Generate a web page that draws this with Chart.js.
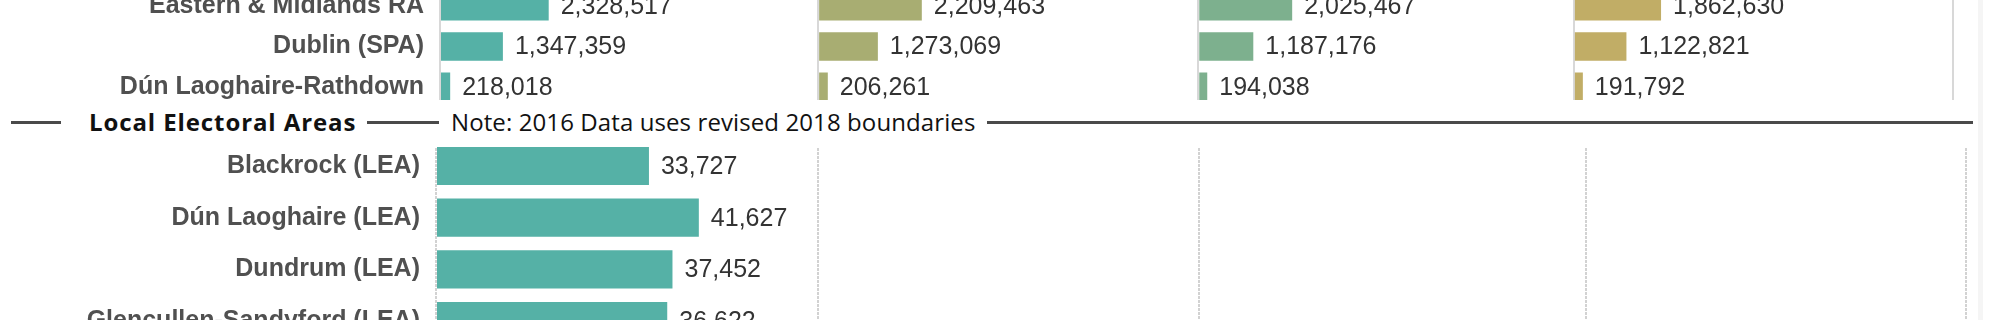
<!DOCTYPE html>
<html>
<head>
<meta charset="utf-8">
<script src="https://cdn.jsdelivr.net/npm/chart.js@4.4.1/dist/chart.umd.min.js"></script>
<style>
  html, body { margin: 0; padding: 0; background: #fff; width: 2000px; height: 320px; overflow: hidden; }
  .pane { position: absolute; left: 0; width: 2000px; overflow: hidden; }
  .pane canvas { position: absolute; left: 0; }
  #topPane { top: 0; height: 100px; }
  #topPane canvas { top: -14px; }
  #leaPane { top: 147px; height: 173px; }
  #leaPane canvas { top: -7px; }
  .rule { position: absolute; top: 121px; height: 3px; background: #4a4a4a; }
  .caption { position: absolute; top: 107px; height: 30px; line-height: 30px; font-family: "Open Sans", sans-serif; font-size: 24px; letter-spacing: 0.1px; color: #111; white-space: nowrap; }
  .edge { position: absolute; left: 1978px; top: 0; width: 5px; height: 320px; background: #f5f5f5; }
</style>
</head>
<body>
<div id="topPane" class="pane"><canvas id="regionChart" width="2000" height="121"></canvas></div>

<div class="rule" style="left:11px; width:50px"></div>
<div class="caption" style="left:89px; font-weight:bold; letter-spacing:0.9px">Local Electoral Areas</div>
<div class="rule" style="left:367px; width:72px"></div>
<div class="caption" style="left:451px">Note: 2016 Data uses revised 2018 boundaries</div>
<div class="rule" style="left:987px; width:986px"></div>

<div id="leaPane" class="pane"><canvas id="leaChart" width="2000" height="207"></canvas></div>
<div class="edge"></div>

<script>
// census years, one column each
var years = ["2016", "2011", "2006", "2002"];
var yearColors = ["#55b1a6", "#a8ad72", "#7db08e", "#c1ad66"];

// regional rows (top part of the view is scrolled off)
var regionLabels = ["Eastern & Midlands RA", "Dublin (SPA)", "Dún Laoghaire-Rathdown"];
var region2016 = [2328517, 1347359, 218018];
var region2011 = [2209463, 1273069, 206261];
var region2006 = [2025467, 1187176, 194038];
var region2002 = [1862630, 1122821, 191792];

// local electoral areas, only 2016 has data
var leaLabels = ["Blackrock (LEA)", "Dún Laoghaire (LEA)", "Dundrum (LEA)", "Glencullen-Sandyford (LEA)"];
var lea2016 = [33727, 41627, 37452, 36622];

var regionAxisMax = 8100000;
var leaAxisMax = 60500;

var labelFont = "'Liberation Sans', Arial, sans-serif";

// writes the value just past the end of each bar
var valueLabels = {
    id: "valueLabels",
    afterDatasetsDraw: function(chart)
    {
        var ctx = chart.ctx;
        ctx.save();
        ctx.font = "25px " + labelFont;
        ctx.fillStyle = "#333";
        ctx.textBaseline = "middle";
        ctx.textAlign = "left";
        chart.data.datasets.forEach(function(ds, i)
        {
            chart.getDatasetMeta(i).data.forEach(function(bar, j)
            {
                if (ds.data[j] == null) return;
                ctx.fillText(ds.data[j].toLocaleString("en-US"), bar.x + 12, bar.y + 1);
            });
        });
        ctx.restore();
    }
};

// one x axis per year, laid side by side
function yearScales(axisMax, weights, gridColor, dash)
{
    var scales = {};
    years.forEach(function(year, i)
    {
        scales["x" + year] = {
            type: "linear",
            position: "bottom",
            stack: "years",
            stackWeight: weights[i],
            min: 0,
            max: axisMax,
            afterBuildTicks: function(scale) { scale.ticks = [{value: 0}, {value: axisMax}]; },
            ticks: { display: false },
            grid: { color: gridColor, lineWidth: 2, drawTicks: false, tickLength: 0 },
            border: { display: false, dash: dash }
        };
    });
    return scales;
}

function makeChart(id, labels, datasets, scales, labelWidth, rightPad, barPct)
{
    scales.y = {
        type: "category",
        position: "left",
        afterFit: function(scale)
        {
            scale.width = labelWidth;
            // rows run to the edges, no room kept for label overflow
            scale.paddingTop = 0;
            scale.paddingBottom = 0;
        },
        grid: { display: false, drawTicks: false, tickLength: 0 },
        border: { display: false },
        ticks: {
            autoSkip: false,
            padding: 16,
            color: "#505050",
            font: { family: labelFont, size: 25, weight: "bold" }
        }
    };

    return new Chart(document.getElementById(id), {
        type: "bar",
        data: { labels: labels, datasets: datasets },
        options: {
            indexAxis: "y",
            responsive: false,
            animation: false,
            layout: { padding: { left: 0, right: rightPad, top: 0, bottom: 0 } },
            datasets: { bar: { grouped: false, categoryPercentage: 1, barPercentage: barPct } },
            plugins: { legend: { display: false }, tooltip: { enabled: false } },
            scales: scales
        },
        plugins: [valueLabels]
    });
}

var regionSeries = [region2016, region2011, region2006, region2002];
var regionDatasets = regionSeries.map(function(values, i)
{
    return { label: years[i], data: values, xAxisID: "x" + years[i], yAxisID: "y", backgroundColor: yearColors[i] };
});

makeChart("regionChart", regionLabels, regionDatasets,
    yearScales(regionAxisMax, [378, 380, 375.5, 379], "#d8d8d8", []),
    440, 47, 0.712);

makeChart("leaChart", leaLabels,
    [{ label: years[0], data: lea2016, xAxisID: "x2016", yAxisID: "y", backgroundColor: yearColors[0] }],
    yearScales(leaAxisMax, [382, 381, 386.7, 380.3], "#d2d2d2", [3, 1]),
    436, 34, 0.735);
</script>
</body>
</html>
